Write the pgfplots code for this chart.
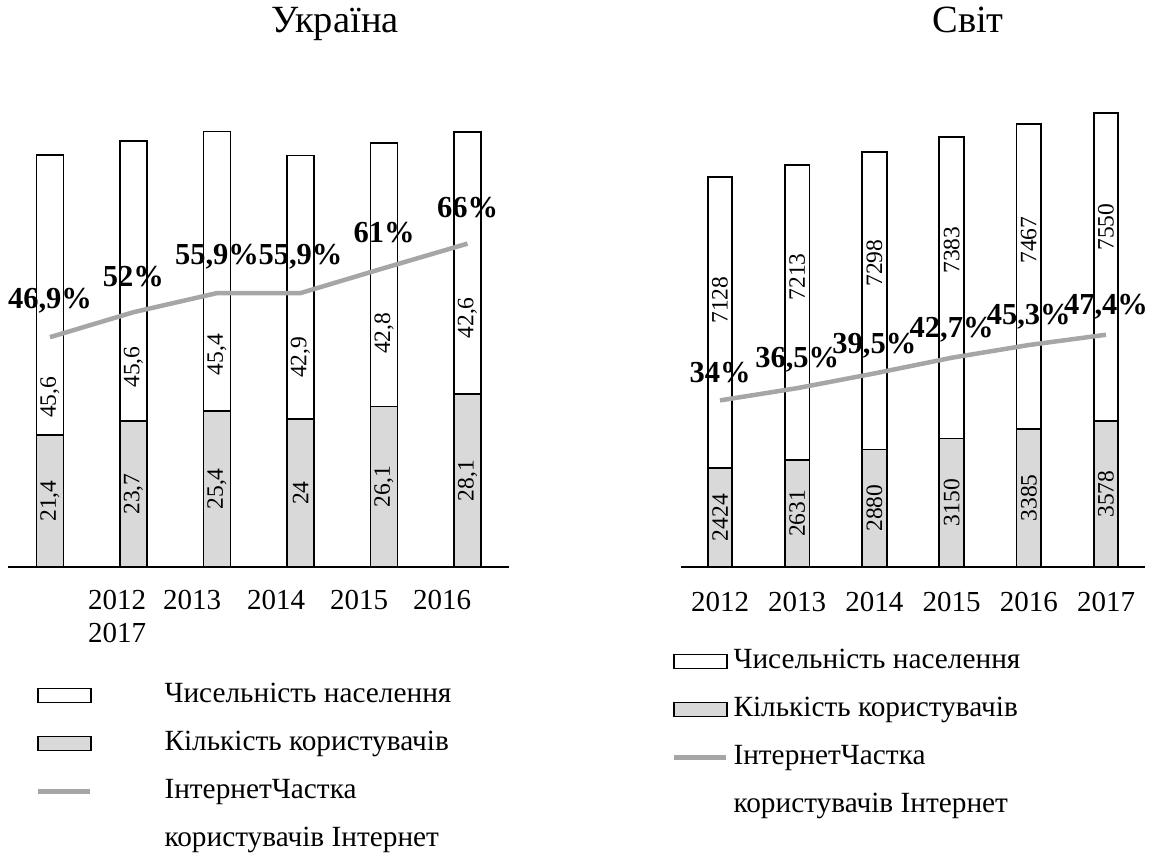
\documentclass[border=0pt]{standalone}
\usepackage{fontspec}
\setmainfont{Liberation Serif}
\usepackage{pgfplots}
\pgfplotsset{compat=1.18}
\definecolor{barGray}{RGB}{217,217,217}
\definecolor{lineGray}{RGB}{166,166,166}
\newcommand\fsz[2]{\fontsize{#1}{#2}\selectfont}
\pgfplotsset{
  base/.style={scale only axis, height=441pt, clip=false, xmin=-0.5, xmax=5.5, ymin=0,
    enlargelimits=false, anchor=south west},
  hidden/.style={axis lines=none, xtick=\empty, ytick=\empty},
  barlook/.style={draw=black, line width=1.8pt},
  vallab/.style={draw=none, nodes near coords, point meta=explicit symbolic,
    nodes near coords align={anchor=center},
    every node near coord/.append style={rotate=90, text=black, inner sep=0pt, font=\fsz{23.5}{28}}},
  pctlab/.style={nodes near coords, point meta=explicit symbolic,
    nodes near coords align={anchor=center},
    every node near coord/.append style={yshift=#1, text=black, inner sep=0pt, font=\bfseries\fsz{30.5}{36}}},
  whiteleg/.style={fill=white, draw=black, line width=1.6pt,
    legend image code/.code={\draw[##1] (0pt,-7pt) rectangle (53pt,7pt);}},
  grayleg/.style={fill=barGray, draw=black, line width=1.6pt,
    legend image code/.code={\draw[##1] (0pt,-7pt) rectangle (53pt,7pt);}},
  lineleg/.style={legend image code/.code={\draw[color=lineGray, line width=4.5pt] (0pt,0pt) -- (52pt,0pt);}},
}
\begin{document}
\begin{tikzpicture}
% ---------------- Left: Ukraine ----------------
\begin{axis}[base, at={(8.25pt,289pt)}, width=501pt, ymax=71.7,
  ybar stacked, bar width=27pt,
  axis x line*=bottom, axis y line=none, axis line style={-, line width=1.5pt},
  xtick=\empty, ytick=\empty]
\addplot[fill=barGray, barlook] coordinates {(0,21.4) (1,23.7) (2,25.4) (3,24) (4,26.1) (5,28.1)};
\addplot[fill=white, barlook] coordinates {(0,45.6) (1,45.6) (2,45.4) (3,42.9) (4,42.8) (5,42.6)};
\end{axis}
\begin{axis}[base, hidden, at={(8.25pt,289pt)}, width=501pt, ymax=71.7]
\addplot[vallab] table[meta=lab] {
x y lab
0 10.7 21,4
1 11.85 23,7
2 12.7 25,4
3 12 24
4 13.05 26,1
5 14.05 28,1
};
\addplot[vallab] table[meta=lab] {
x y lab
0 27.6 45,6
1 32.5 45,6
2 34.5 45,4
3 34.1 42,9
4 38.0 42,8
5 40.5 42,6
};
\end{axis}
\begin{axis}[base, hidden, at={(8.25pt,289pt)}, width=501pt, ymax=90,
  legend style={at={(0.0554,-0.2608)}, anchor=north west, draw=none, fill=none,
    inner sep=0pt, outer sep=0pt, row sep=21pt, column sep=72pt,
    nodes={inner sep=0pt, text height=20pt, text depth=7pt}, font=\fsz{29.3}{34}},
  legend cell align=left]
\addlegendimage{whiteleg}
\addlegendimage{grayleg}
\addplot[color=lineGray, line width=4.5pt, lineleg, pctlab=36pt] table[meta=lab] {
x y lab
0 46.9 46,9\%
1 52 52\%
2 55.9 55,9\%
3 55.9 55,9\%
4 61 61\%
5 66 66\%
};
\addlegendimage{empty legend}
\legend{Чисельність населення, Кількість користувачів, ІнтернетЧастка, користувачів Інтернет}
\end{axis}
\node[anchor=base, font=\fsz{38.5}{44}] at (335pt,823pt) {Україна};
\node[anchor=base west, inner sep=0pt, font=\fsz{29}{34}] at (88pt,246pt)
  {2012\hspace{17pt}2013\hspace{26pt}2014\hspace{25pt}2015\hspace{25pt}2016};
\node[anchor=base west, inner sep=0pt, font=\fsz{29}{34}] at (88pt,213pt) {2017};
% ---------------- Right: World ----------------
\begin{axis}[base, at={(681.4pt,289pt)}, width=463.2pt, ymax=10810,
  ybar stacked, bar width=24.5pt,
  axis x line*=bottom, axis y line=none, axis line style={-, line width=1.5pt},
  xtick={0,1,2,3,4,5}, xticklabels={2012,2013,2014,2015,2016,2017},
  major tick length=0pt, ytick=\empty,
  xticklabel style={anchor=north, inner sep=0pt, yshift=-25pt, font=\fsz{29}{34}}]
\addplot[fill=barGray, barlook] coordinates {(0,2424) (1,2631) (2,2880) (3,3150) (4,3385) (5,3578)};
\addplot[fill=white, barlook] coordinates {(0,7128) (1,7213) (2,7298) (3,7383) (4,7467) (5,7550)};
\end{axis}
\begin{axis}[base, hidden, at={(681.4pt,289pt)}, width=463.2pt, ymax=10810]
\addplot[vallab] table[meta=lab] {
x y lab
0 1212 2424
1 1316 2631
2 1440 2880
3 1575 3150
4 1693 3385
5 1789 3578
};
\addplot[vallab] table[meta=lab] {
x y lab
0 6540 7128
1 7110 7213
2 7450 7298
3 7770 7383
4 8010 7467
5 8330 7550
};
\end{axis}
\begin{axis}[base, hidden, at={(681.4pt,289pt)}, width=463.2pt, ymax=90,
  legend style={at={(-0.0203,-0.1837)}, anchor=north west, draw=none, fill=none,
    inner sep=0pt, outer sep=0pt, row sep=21pt, column sep=5pt,
    nodes={inner sep=0pt, text height=20pt, text depth=7pt}, font=\fsz{29.3}{34}},
  legend cell align=left]
\addlegendimage{whiteleg}
\addlegendimage{grayleg}
\addplot[color=lineGray, line width=4.5pt, lineleg, pctlab=28pt] table[meta=lab] {
x y lab
0 34 34\%
1 36.5 36,5\%
2 39.5 39,5\%
3 42.7 42,7\%
4 45.3 45,3\%
5 47.4 47,4\%
};
\addlegendimage{empty legend}
\legend{Чисельність населення, Кількість користувачів, ІнтернетЧастка, користувачів Інтернет}
\end{axis}
\node[anchor=base, font=\fsz{38.5}{44}] at (968pt,823pt) {Світ};
\pgfresetboundingbox
\useasboundingbox (0,0) rectangle (1151pt,856pt);
\end{tikzpicture}
\end{document}
